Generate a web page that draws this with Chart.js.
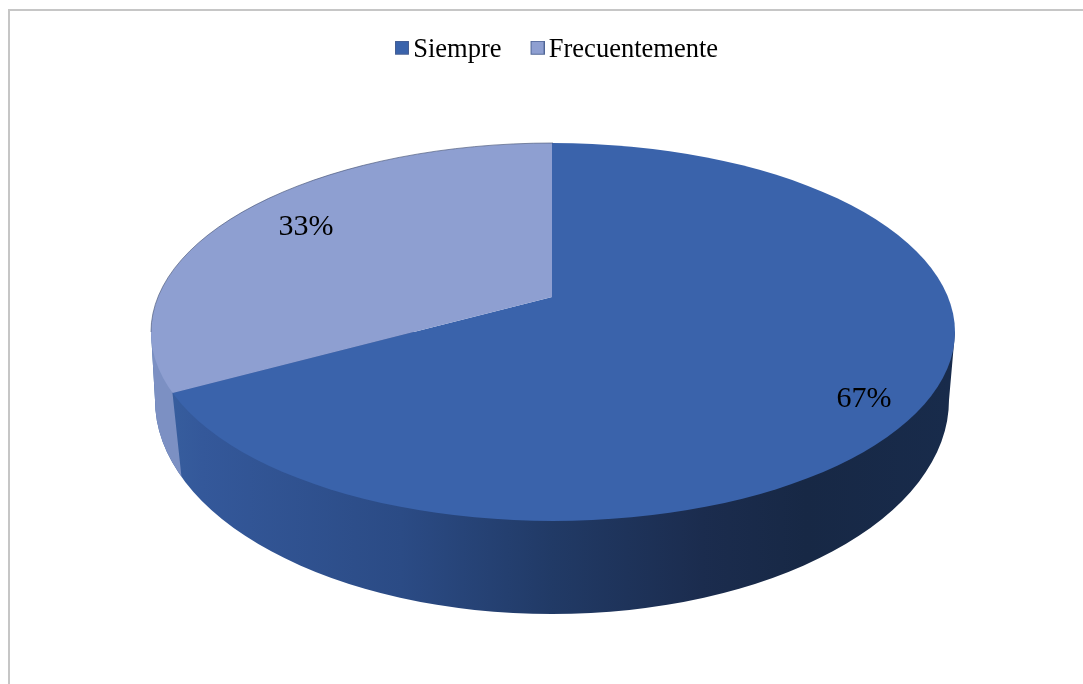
<!DOCTYPE html>
<html>
<head>
<meta charset="utf-8">
<script src="https://cdn.jsdelivr.net/npm/chart.js@4/dist/chart.umd.min.js"></script>
<style>
html,body{margin:0;padding:0;background:#fff;overflow:hidden}
#wrap{position:relative;width:1083px;height:684px}
#frame{position:absolute;left:8px;top:9px;right:0;bottom:0;border-left:2px solid #c6c6c6;border-top:2px solid #c6c6c6;pointer-events:none}
canvas{display:block}
</style>
</head>
<body>
<div id="wrap">
<canvas id="c" width="1083" height="684"></canvas>
<div id="frame"></div>
</div>
<script>
const categories = ['Siempre', 'Frecuentemente'];
const values = [67, 33];
const valueLabels = ['67%', '33%'];
const sliceColors = ['#3A63AB', '#8E9FD1'];

// geometry of the tilted pie
const FONT = '"Liberation Serif"';
const APEX = {x: 552, y: 297};
const TOP = {x: 553, y: 332, rx: 402, ry: 189};
const BASE = {x: 552, y: 400, rx: 397, ry: 214};
const TILT = 0.46, REACH = 520;
const WALL = {dx: 9, dy: 84};
const LABEL_AT = [{x: 864, y: 399}, {x: 306, y: 227}];

function rimPoint(a) {
  const dx = Math.cos(a), dy = Math.sin(a) * TILT;
  const ox = APEX.x - TOP.x, oy = APEX.y - TOP.y;
  const A = dx*dx/(TOP.rx*TOP.rx) + dy*dy/(TOP.ry*TOP.ry);
  const B = 2*(ox*dx/(TOP.rx*TOP.rx) + oy*dy/(TOP.ry*TOP.ry));
  const C = ox*ox/(TOP.rx*TOP.rx) + oy*oy/(TOP.ry*TOP.ry) - 1;
  const t = (-B + Math.sqrt(B*B - 4*A*C)) / (2*A);
  return {x: APEX.x + dx*t, y: APEX.y + dy*t};
}

function wallPath(ctx) {
  ctx.beginPath();
  ctx.moveTo(TOP.x - TOP.rx, TOP.y);
  ctx.lineTo(BASE.x - BASE.rx, BASE.y);
  ctx.ellipse(BASE.x, BASE.y, BASE.rx, BASE.ry, 0, Math.PI, 0, true);
  ctx.lineTo(TOP.x + TOP.rx, TOP.y);
  ctx.closePath();
}

const pie3d = {
  id: 'pie3d',
  beforeDatasetsDraw(chart) {
    const ctx = chart.ctx;
    const arcs = chart.getDatasetMeta(0).data;
    const first = arcs[0];
    // side wall
    const g = ctx.createLinearGradient(BASE.x - BASE.rx, 0, BASE.x + BASE.rx, 0);
    g.addColorStop(0, '#38609F');
    g.addColorStop(0.06, '#34589A');
    g.addColorStop(0.31, '#2B4B85');
    g.addColorStop(0.5, '#213A66');
    g.addColorStop(0.69, '#1B2C4E');
    g.addColorStop(0.82, '#172845');
    g.addColorStop(1, '#182B4B');
    ctx.save();
    wallPath(ctx);
    ctx.fillStyle = g;
    ctx.fill();
    // lighter part of the wall, belonging to the second slice
    const T = rimPoint(first.endAngle);
    ctx.clip();
    ctx.beginPath();
    ctx.moveTo(T.x, 0);
    ctx.lineTo(T.x, T.y);
    ctx.lineTo(T.x + WALL.dx*4, T.y + WALL.dy*4);
    ctx.lineTo(0, T.y + WALL.dy*4);
    ctx.lineTo(0, 0);
    ctx.closePath();
    ctx.fillStyle = '#7C90C3';
    ctx.fill();
    ctx.restore();
    // top face: the library's arcs, tilted and clipped to the rim
    const s = REACH / first.outerRadius;
    ctx.save();
    ctx.beginPath();
    ctx.ellipse(TOP.x, TOP.y, TOP.rx, TOP.ry, 0, 0, Math.PI*2);
    ctx.clip();
    ctx.translate(APEX.x, APEX.y);
    ctx.scale(s, s*TILT);
    ctx.translate(-first.x, -first.y);
  },
  afterDatasetsDraw(chart) {
    const ctx = chart.ctx;
    ctx.restore();
    // thin rim line on the pale slice
    ctx.save();
    ctx.beginPath();
    ctx.ellipse(TOP.x, TOP.y, TOP.rx, TOP.ry, 0, Math.PI, Math.PI*1.5);
    ctx.strokeStyle = 'rgba(70,85,120,0.65)';
    ctx.lineWidth = 1;
    ctx.stroke();
    // value labels
    ctx.fillStyle = '#000';
    ctx.font = '30px ' + FONT;
    ctx.textAlign = 'center';
    ctx.textBaseline = 'middle';
    valueLabels.forEach((t, i) => ctx.fillText(t, LABEL_AT[i].x, LABEL_AT[i].y));
    ctx.restore();
  }
};

function legendSwatch(color) {
  const cv = document.createElement('canvas');
  cv.width = 19; cv.height = 19;
  const c = cv.getContext('2d');
  c.fillStyle = color;
  c.fillRect(5.5, 0.5, 13, 13);
  c.strokeStyle = 'rgba(50,75,130,0.8)';
  c.lineWidth = 1;
  c.strokeRect(5.5, 0.5, 13, 13);
  return cv;
}

new Chart(document.getElementById('c'), {
  type: 'pie',
  data: {
    labels: categories,
    datasets: [{data: values, backgroundColor: sliceColors, borderWidth: 0}]
  },
  plugins: [pie3d],
  options: {
    responsive: false,
    animation: false,
    layout: {padding: {left: 34, top: 4, right: 0, bottom: 10}},
    plugins: {
      tooltip: {enabled: false},
      legend: {
        position: 'top',
        labels: {
          usePointStyle: true,
          pointStyleWidth: 1,
          boxHeight: 14,
          padding: 33,
          color: '#000',
          font: {family: FONT, size: 26.5},
          generateLabels: () => categories.map((name, i) => ({
            text: name,
            index: i,
            hidden: false,
            pointStyle: legendSwatch(sliceColors[i]),
            fillStyle: sliceColors[i],
            strokeStyle: sliceColors[i],
            lineWidth: 0
          }))
        }
      }
    }
  }
});
</script>
</body>
</html>
